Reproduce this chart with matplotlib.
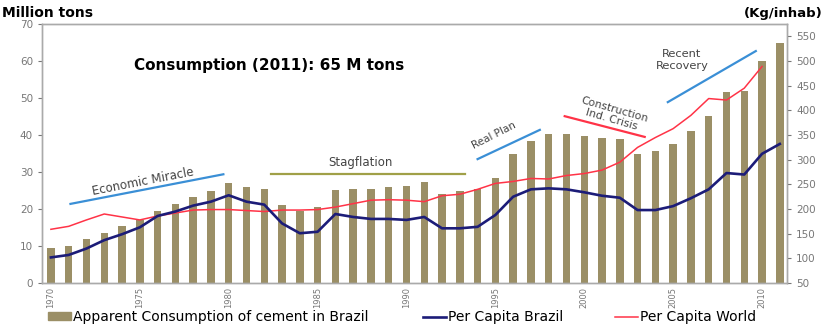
import matplotlib
matplotlib.use('Agg')
from matplotlib import pyplot as plt
from matplotlib.patches import Patch
from matplotlib.lines import Line2D
import numpy as np

years = np.arange(1970, 2012)

# apparent consumption of cement in Brazil, million tons
consumption = [9.5, 10.1, 11.8, 13.6, 15.3, 17.0, 19.6, 21.3, 23.2, 25.0, 27.0, 26.0,
               25.5, 21.0, 19.5, 20.6, 25.2, 25.3, 25.5, 25.9, 26.1, 27.4, 24.2, 24.9,
               25.5, 28.5, 35.0, 38.5, 40.2, 40.3, 39.8, 39.1, 39.0, 35.0, 35.8, 37.7,
               41.1, 45.1, 51.6, 52.0, 60.0, 65.0]

# kg per inhabitant
per_capita_brazil = [102, 107, 120, 137, 149, 163, 186, 195, 207, 215, 228, 215,
                     209, 171, 151, 154, 190, 184, 180, 180, 178, 184, 161, 161,
                     164, 188, 225, 240, 242, 240, 234, 227, 223, 198, 198, 206,
                     222, 240, 273, 270, 312, 332]

per_capita_world = [159, 165, 178, 190, 184, 178, 186, 192, 198, 199, 199, 197,
                    195, 198, 198, 199, 204, 211, 218, 219, 218, 215, 227, 230,
                    240, 252, 256, 262, 261, 268, 272, 279, 295, 325, 345, 363,
                    390, 424, 421, 445, 489]
world_years = years[:len(per_capita_world)]

left_ticks = np.arange(0, 71, 10)
right_ticks = np.arange(50, 551, 50)
xtick_years = np.arange(1970, 2011, 5)

bar_color = '#9b8f66'
brazil_color = '#1c1c78'
world_color = '#ff3347'
grey = '#777777'
note_color = '#444444'

fig = plt.figure(figsize=(8.24, 3.25), dpi=100)
ax = fig.add_axes([0.051, 0.129, 0.904, 0.797])
ax2 = ax.twinx()

ax.bar(years, consumption, width=0.42, color=bar_color, zorder=2)
ax2.plot(years, per_capita_brazil, color=brazil_color, lw=1.9, zorder=4)
ax2.plot(world_years, per_capita_world, color=world_color, lw=1.1, zorder=3)

ax.set_xlim(1969.5, 2011.4)
ax.set_ylim(0, 70)
ax2.set_ylim(50, 575)
ax.set_yticks(left_ticks)
ax2.set_yticks(right_ticks)
ax.set_xticks(xtick_years)
ax.set_xticklabels([str(y) for y in xtick_years], rotation=90)

for a in (ax, ax2):
    for s in a.spines.values():
        s.set_color('#aaaaaa')
        s.set_linewidth(1.0)
    a.tick_params(colors=grey, labelsize=7.5, length=3, width=0.8)
ax.tick_params(axis='x', length=0, labelsize=6, pad=3)

# period annotations
ax.plot([1971.1, 1979.7], [21.4, 29.4], color='#3a8fd6', lw=1.6, zorder=5)
ax.text(1975.2, 27.5, 'Economic Miracle', rotation=11, fontsize=8.5, color=note_color,
        ha='center', va='center')
ax.plot([1982.4, 1993.3], [29.4, 29.4], color='#a0a048', lw=1.6, zorder=5)
ax.text(1987.4, 32.7, 'Stagflation', fontsize=8.5, color=note_color, ha='center', va='center')
ax.plot([1994.0, 1997.5], [33.5, 41.4], color='#3a8fd6', lw=1.6, zorder=5)
ax.text(1994.9, 39.8, 'Real Plan', rotation=27, fontsize=7.5, color=note_color,
        ha='center', va='center')
ax.plot([1998.9, 2003.4], [45.1, 39.5], color='#ff3347', lw=1.6, zorder=5)
ax.text(2001.6, 45.6, 'Construction\nInd. Crisis', rotation=-16, fontsize=7.8,
        color=note_color, ha='center', va='center', linespacing=1.0)
ax.plot([2004.7, 2009.65], [48.9, 62.7], color='#3a8fd6', lw=1.6, zorder=5)
ax.text(2005.5, 60.3, 'Recent\nRecovery', fontsize=8.2, color=note_color,
        ha='center', va='center', linespacing=1.2)

ax.text(1974.67, 58.9, 'Consumption (2011): 65 M tons', fontsize=11, fontweight='bold',
        ha='left', va='center')

fig.text(0.003, 0.96, 'Million tons', fontsize=10, fontweight='bold', va='center')
fig.text(0.998, 0.958, '(Kg/inhab)', fontsize=9.5, fontweight='bold', va='center', ha='right')

# one legend entry per series, spread along the bottom
entries = [
    (Patch(color=bar_color), 'Apparent Consumption of cement in Brazil', 0.058),
    (Line2D([], [], color=brazil_color, lw=1.9), 'Per Capita Brazil', 0.513),
    (Line2D([], [], color=world_color, lw=1.1), 'Per Capita World', 0.746),
]
for handle, label, x0 in entries:
    fig.legend([handle], [label], loc='center left', bbox_to_anchor=(x0, 0.025),
               frameon=False, fontsize=10, handlelength=1.7, handleheight=0.45,
               handletextpad=0.1, borderpad=0, borderaxespad=0)

fig.savefig('out.png', dpi=100)
